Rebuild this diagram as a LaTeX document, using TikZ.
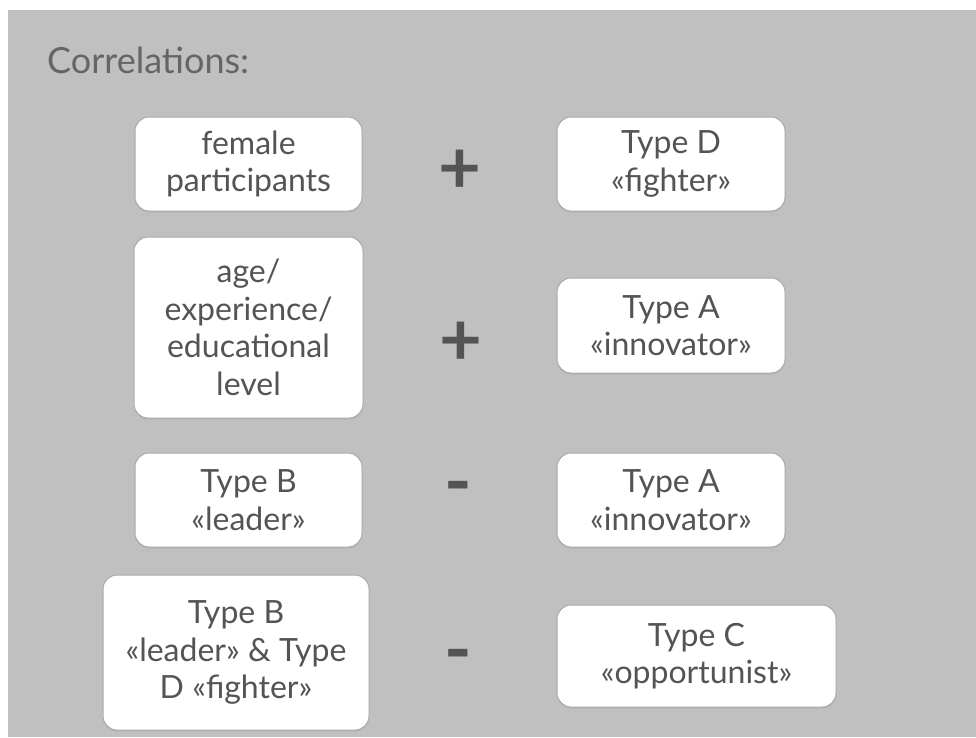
\documentclass[tikz,border=0pt]{standalone}
\usepackage{fontspec}
\setmainfont{Lato}
\usetikzlibrary{shadows}
\definecolor{bg}{HTML}{C0C0C0}
\definecolor{txt}{HTML}{545454}
\definecolor{boxline}{HTML}{A9A9A9}
\begin{document}
\begin{tikzpicture}[x=1pt,y=-1pt,
  box/.style={draw=boxline, fill=white, rounded corners=14pt, line width=1pt,
    inner sep=0pt, align=center, text=txt,
    font=\fontsize{32}{37.5}\selectfont,
    drop shadow={opacity=0.18, shadow xshift=0pt, shadow yshift=-1.5pt}},
  sign/.style={text=txt, inner sep=0pt, font=\bfseries\fontsize{74}{74}\selectfont}]
\useasboundingbox (0,0) rectangle (976,737);
\fill[white] (0,0) rectangle (976,737);
\fill[bg] (8,10) rectangle (976,737);
\node[text=txt!90!white, anchor=base west, inner sep=0pt, font=\fontsize{36}{36}\selectfont] (title) at (47,73) {Correlations:};
% row 1
\node[box, minimum width=227pt, minimum height=94pt] (b1) at (248.5,164) {female\\participants};
\node[box, minimum width=228pt, minimum height=94pt] (b2) at (671,164) {Type D\\«fighter»};
\node[sign] (s1) at (460,172) {+};
% row 2
\node[box, minimum width=229pt, minimum height=181pt] (b3) at (248.5,327.5) {age/\\experience/\\educational\\level};
\node[box, minimum width=228pt, minimum height=95pt] (b4) at (671,325.5) {Type A\\«innovator»};
\node[sign] (s2) at (461,344) {+};
% row 3
\node[box, minimum width=227pt, minimum height=94pt] (b5) at (248.5,500) {Type B\\«leader»};
\node[box, minimum width=228pt, minimum height=94pt] (b6) at (671,500) {Type A\\«innovator»};
\node[sign] (s3) at (458,494) {-};
% row 4
\node[box, minimum width=266pt, minimum height=155pt] (b7) at (236,652.5) {Type B\\«leader» \& Type\\D «fighter»};
\node[box, minimum width=279pt, minimum height=102pt] (b8) at (696.5,656) {Type C\\«opportunist»};
\node[sign] (s4) at (458,662) {-};
\end{tikzpicture}
\end{document}
